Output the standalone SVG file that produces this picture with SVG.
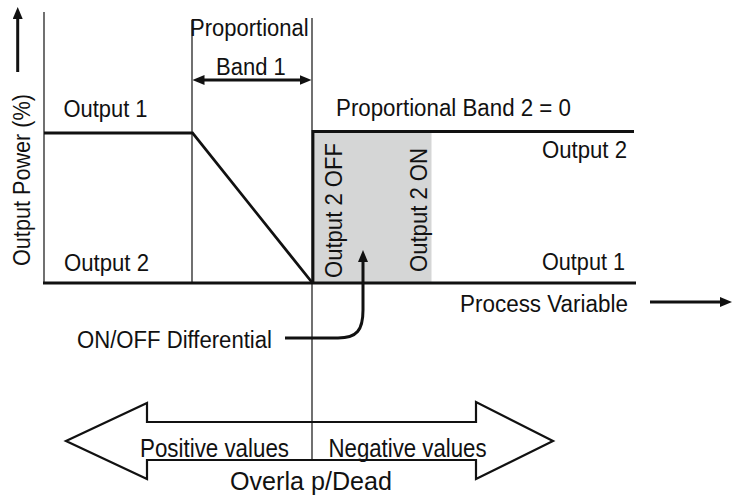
<svg xmlns="http://www.w3.org/2000/svg" width="732" height="495" viewBox="0 0 732 495">
<style>
text{font-family:"Liberation Sans",Arial,Helvetica,sans-serif;font-size:23.5px;fill:#111;}
.big{font-size:25px;}
.thin{stroke:#111;stroke-width:1.2;fill:none;}
.thick{stroke:#111;stroke-width:2.8;fill:none;}
.arr{stroke:#111;stroke-width:3;fill:none;}
</style>
<defs>
<marker id="ah" viewBox="0 0 12 10" refX="1" refY="5" markerWidth="12" markerHeight="10" markerUnits="userSpaceOnUse" orient="auto-start-reverse">
<path d="M0,0 L12,5 L0,10 z" fill="#111"/>
</marker>
</defs>
<rect width="732" height="495" fill="#fff"/>

<g id="band2-zone">
<rect x="313" y="132" width="118.5" height="151" fill="#d5d6d6"/>
</g>

<g id="axes">
<line class="thin" x1="44" y1="12" x2="44" y2="283"/>
<line class="thick" x1="43" y1="283" x2="636" y2="283"/>
</g>

<g id="guides">
<line class="thin" x1="192" y1="20" x2="192" y2="283"/>
<line class="thin" x1="312" y1="18" x2="312" y2="460"/>
</g>

<g id="output1-curve">
<polyline class="thick" points="44,133 192.5,133 312.5,283"/>
</g>

<g id="output2-curve">
<polyline class="thick" points="313,283 313,131.5 634,131.5"/>
</g>

<g id="labels">
<text transform="translate(30,180) rotate(-90)" text-anchor="middle" textLength="172" lengthAdjust="spacingAndGlyphs">Output Power (%)</text>
<text x="190" y="36" textLength="118.6" lengthAdjust="spacingAndGlyphs">Proportional</text>
<text x="216" y="75" textLength="69.7" lengthAdjust="spacingAndGlyphs">Band 1</text>
<text x="63.5" y="117" textLength="84" lengthAdjust="spacingAndGlyphs">Output 1</text>
<text x="64" y="271" textLength="85" lengthAdjust="spacingAndGlyphs">Output 2</text>
<text x="336" y="116" textLength="235" lengthAdjust="spacingAndGlyphs">Proportional Band 2 = 0</text>
<text x="542" y="158" textLength="85" lengthAdjust="spacingAndGlyphs">Output 2</text>
<text x="542" y="270" textLength="83" lengthAdjust="spacingAndGlyphs">Output 1</text>
<text transform="translate(341.5,278) rotate(-90)" textLength="135" lengthAdjust="spacingAndGlyphs">Output 2 OFF</text>
<text transform="translate(427,272) rotate(-90)" textLength="124" lengthAdjust="spacingAndGlyphs">Output 2 ON</text>
<text x="460" y="312" textLength="168" lengthAdjust="spacingAndGlyphs">Process Variable</text>
<text x="77" y="348" textLength="195" lengthAdjust="spacingAndGlyphs">ON/OFF Differential</text>
</g>

<g id="overlap-arrow">
<polygon points="66,441 147,403 147,422 476,422 476,402 553,441 476,479 476,460 147,460 147,479" fill="#fff" stroke="#111" stroke-width="2.2" stroke-linejoin="miter"/>
<line class="thin" x1="312" y1="422" x2="312" y2="460"/>
<text class="big" x="140" y="457" textLength="149" lengthAdjust="spacingAndGlyphs">Positive values</text>
<text class="big" x="328.5" y="457" textLength="158" lengthAdjust="spacingAndGlyphs">Negative values</text>
<text class="big" x="230" y="490" textLength="162" lengthAdjust="spacingAndGlyphs">Overla p/Dead</text>
</g>

<g id="connectors">
<line class="arr" x1="17.7" y1="72" x2="17.7" y2="18" marker-end="url(#ah)"/>
<line class="arr" x1="203.5" y1="80" x2="300.5" y2="80" marker-start="url(#ah)" marker-end="url(#ah)"/>
<line class="arr" x1="650" y1="302" x2="721" y2="302" marker-end="url(#ah)"/>
<path class="arr" stroke-width="3.5" d="M285,338 H338 C357,338 363,330 363,310 V261" marker-end="url(#ah)"/>
</g>
</svg>
